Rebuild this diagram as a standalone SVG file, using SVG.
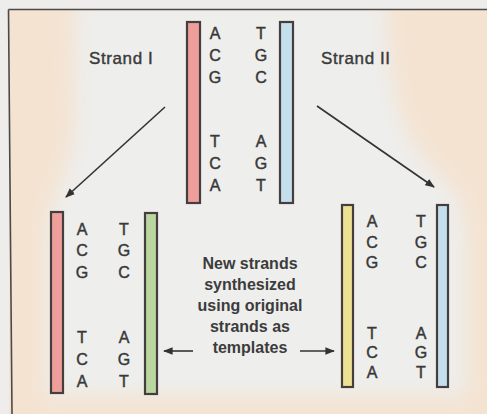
<svg xmlns="http://www.w3.org/2000/svg" width="487" height="414" viewBox="0 0 487 414">
  <style>
    .base { font-family: "Liberation Sans", Arial, sans-serif; font-size: 16px; fill: #383838; stroke: #383838; stroke-width: 0.45px; text-anchor: middle; }
    .label { font-family: "Liberation Sans", Arial, sans-serif; font-size: 17px; fill: #3a3a3a; stroke: #3a3a3a; stroke-width: 0.4px; letter-spacing: 0.6px; }
    .note { font-family: "Liberation Sans", Arial, sans-serif; font-size: 16px; font-weight: bold; fill: #3c3c3c; text-anchor: middle; }
    .bar { stroke: #463e3e; stroke-width: 2.2; }
    .arrow { stroke: #333; stroke-width: 1.6; fill: none; marker-end: url(#head); }
  </style>
  <defs>
    <marker id="head" viewBox="0 0 10 10" refX="9" refY="5" markerWidth="6" markerHeight="6" orient="auto" markerUnits="strokeWidth">
      <path d="M0,1 L10,5 L0,9 Z" fill="#333"/>
    </marker>
    <filter id="soft" x="-20%" y="-20%" width="140%" height="140%">
      <feGaussianBlur stdDeviation="10"/>
    </filter>
    <clipPath id="frame">
      <rect x="9" y="10" width="478" height="404"/>
    </clipPath>
  </defs>

  <!-- background -->
  <rect x="0" y="0" width="487" height="414" fill="#eeedeb"/>
  <rect x="9" y="10" width="478" height="404" fill="#f4e3d1"/>
  <g clip-path="url(#frame)">
    <path d="M 78,0 L 386,0 C 390,90 400,140 440,175 C 462,195 466,210 466,240 L 466,396 L 46,396 L 46,240 C 46,200 74,170 74,120 L 75,0 Z" fill="#eeeeec" filter="url(#soft)"/>
  </g>
  <path d="M 8.5,9.5 L 487,9.5 M 8.5,9.5 L 12,414" stroke="#4a4a4a" stroke-width="1.6" fill="none"/>

  <!-- top parent duplex -->
  <g id="parent">
    <rect class="bar" x="187" y="22" width="13" height="181" fill="#ee9f9c"/>
    <rect class="bar" x="280" y="22" width="13" height="181" fill="#c3dfec"/>
    <text class="base" x="215" y="39">A</text>
    <text class="base" x="215" y="61">C</text>
    <text class="base" x="215" y="83">G</text>
    <text class="base" x="215" y="147">T</text>
    <text class="base" x="215" y="169">C</text>
    <text class="base" x="215" y="191">A</text>
    <text class="base" x="261" y="39">T</text>
    <text class="base" x="261" y="61">G</text>
    <text class="base" x="261" y="83">C</text>
    <text class="base" x="261" y="147">A</text>
    <text class="base" x="261" y="169">G</text>
    <text class="base" x="261" y="191">T</text>
  </g>

  <g id="label-strand1">
    <text class="label" x="89" y="64">Strand I</text>
  </g>
  <g id="label-strand2">
    <text class="label" x="321" y="64">Strand II</text>
  </g>

  <!-- bottom left daughter -->
  <g id="daughter-left">
    <rect class="bar" x="51" y="212" width="12" height="181" fill="#ee9f9c"/>
    <rect class="bar" x="145" y="213" width="12" height="181" fill="#b9d79f"/>
    <text class="base" x="82" y="235">A</text>
    <text class="base" x="82" y="256">C</text>
    <text class="base" x="82" y="278">G</text>
    <text class="base" x="82" y="343">T</text>
    <text class="base" x="82" y="365">C</text>
    <text class="base" x="82" y="387">A</text>
    <text class="base" x="124" y="235">T</text>
    <text class="base" x="124" y="256">G</text>
    <text class="base" x="124" y="278">C</text>
    <text class="base" x="124" y="343">A</text>
    <text class="base" x="124" y="365">G</text>
    <text class="base" x="124" y="387">T</text>
  </g>

  <!-- bottom right daughter -->
  <g id="daughter-right">
    <rect class="bar" x="342" y="205" width="11" height="182" fill="#efe193"/>
    <rect class="bar" x="437" y="205" width="11" height="182" fill="#c3dfec"/>
    <text class="base" x="372" y="227">A</text>
    <text class="base" x="372" y="248">C</text>
    <text class="base" x="372" y="268">G</text>
    <text class="base" x="372" y="339">T</text>
    <text class="base" x="372" y="358">C</text>
    <text class="base" x="372" y="378">A</text>
    <text class="base" x="421" y="227">T</text>
    <text class="base" x="421" y="248">G</text>
    <text class="base" x="421" y="268">C</text>
    <text class="base" x="421" y="339">A</text>
    <text class="base" x="421" y="358">G</text>
    <text class="base" x="421" y="378">T</text>
  </g>

  <!-- center note -->
  <g id="note">
    <text class="note" x="250" y="269">New strands</text>
    <text class="note" x="250" y="290">synthesized</text>
    <text class="note" x="250" y="311">using original</text>
    <text class="note" x="250" y="332">strands as</text>
    <text class="note" x="250" y="353">templates</text>
  </g>

  <!-- connectors -->
  <g id="connectors">
    <line class="arrow" x1="165" y1="107" x2="66" y2="197"/>
    <line class="arrow" x1="317" y1="106" x2="434" y2="187"/>
    <line class="arrow" x1="193" y1="351" x2="164" y2="351"/>
    <line class="arrow" x1="300" y1="351" x2="334" y2="351"/>
  </g>
</svg>
